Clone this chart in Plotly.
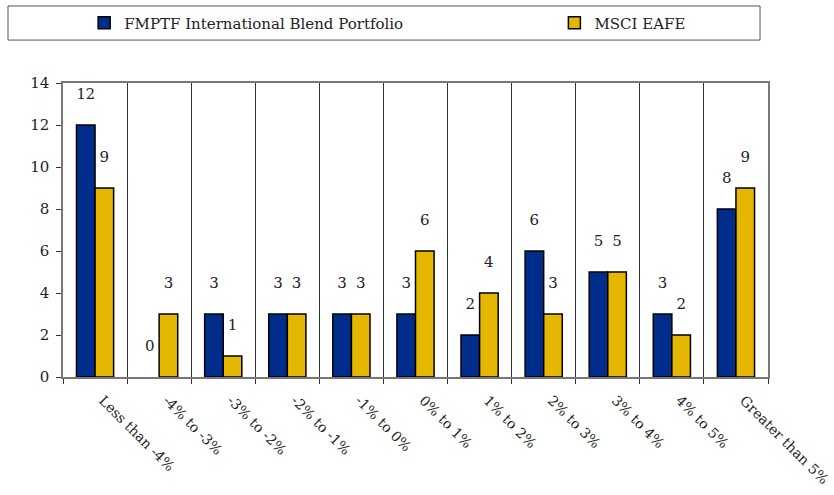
import plotly.graph_objects as go

categories = ["Less than -4%", "-4% to -3%", "-3% to -2%", "-2% to -1%", "-1% to 0%",
              "0% to 1%", "1% to 2%", "2% to 3%", "3% to 4%", "4% to 5%", "Greater than 5%"]
portfolio = [12, 0, 3, 3, 3, 3, 2, 6, 5, 3, 8]
benchmark = [9, 3, 1, 3, 3, 6, 4, 3, 5, 2, 9]
series_names = ["FMPTF International Blend Portfolio", "MSCI EAFE"]
y_ticks = [0, 2, 4, 6, 8, 10, 12, 14]

FONT = "DejaVu Serif"
INK = "#222"


def label_text(vals):
    return [f"{v}<br> " for v in vals]


fig = go.Figure()
for name, vals, color, leg in [(series_names[0], portfolio, "#002D8C", "legend"),
                               (series_names[1], benchmark, "#E6B700", "legend2")]:
    fig.add_trace(go.Bar(
        name=name, x=categories, y=vals, legend=leg,
        marker=dict(color=color,
                    line=dict(color="black", width=[1.5 if v else 0 for v in vals])),
        text=label_text(vals), textposition="outside", cliponaxis=False,
        textfont=dict(family=FONT, size=15, color=INK),
    ))

legend_style = dict(orientation="h", xanchor="left", y=1.204, yanchor="middle",
                    font=dict(family=FONT, size=15, color=INK),
                    bgcolor="rgba(0,0,0,0)")

fig.update_layout(
    width=834, height=495,
    margin=dict(l=63, r=66, t=83, b=118, autoexpand=False),
    paper_bgcolor="white", plot_bgcolor="white",
    barmode="group", bargap=0.42, bargroupgap=0,
    font=dict(family=FONT, size=15, color=INK),
    showlegend=True,
    legend=dict(x=0.03, **legend_style),
    legend2=dict(x=0.697, **legend_style),
    shapes=[dict(type="rect", xref="paper", yref="paper",
                 x0=-0.078, x1=0.9887, y0=1.146, y1=1.262,
                 line=dict(color="#555", width=1), fillcolor="rgba(0,0,0,0)")],
)

fig.update_xaxes(
    type="category", tickson="boundaries", showgrid=True, gridcolor="#333", gridwidth=1,
    ticks="outside", ticklen=5, tickcolor="#333", tickangle=45,
    ticklabelstandoff=8, ticklabelshift=8, automargin=False,
    showline=True, linecolor="#777", linewidth=1.5, mirror=True,
    tickfont=dict(family=FONT, size=14, color=INK),
)
fig.update_yaxes(
    range=[0, 14], tickvals=y_ticks, showgrid=False, zeroline=False,
    ticks="outside", ticklen=5, tickcolor="#333", ticklabelstandoff=4, automargin=False,
    showline=True, linecolor="#777", linewidth=1.5, mirror=True,
    tickfont=dict(family=FONT, size=15, color=INK),
)

fig.write_html("out.html")
